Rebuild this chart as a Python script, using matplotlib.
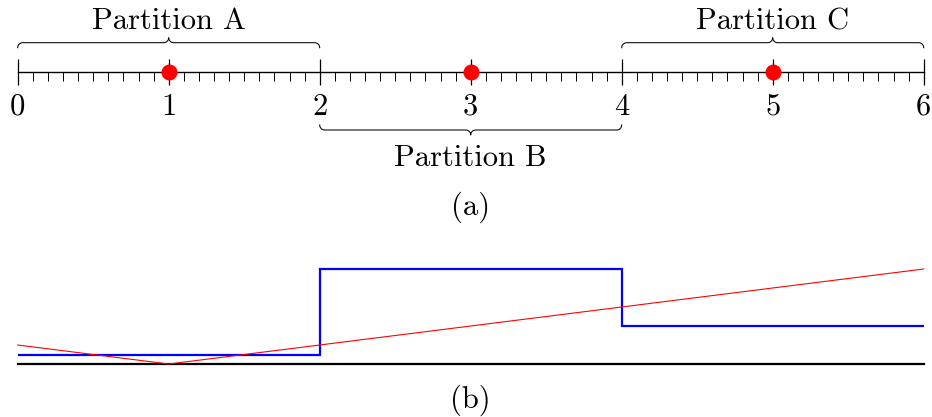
import numpy as np
import matplotlib.pyplot as plt

# number line data
major_ticks = [0, 1, 2, 3, 4, 5, 6]
minor_step = 0.1
centres = [1, 3, 5]
part_names = ['Partition A', 'Partition B', 'Partition C']
part_lo = [0, 2, 4]
part_hi = [2, 4, 6]
part_up = [True, False, True]

# lower panel data
step_edges = [0, 2, 4, 6]
step_values = [0.5, 5, 2]
red_x = [0, 1, 6]
red_y = [1, 0, 5]

plt.rcParams['font.family'] = ['cmr10', 'DejaVu Serif']
plt.rcParams['mathtext.fontset'] = 'cm'

W, H = 932, 417
PXU = 151.0           # pixels per x unit
x_left = -17.7 / PXU
x_right = 6 + (W - 17.7 - 6 * PXU) / PXU

fig = plt.figure(figsize=(W / 100, H / 100), dpi=100)

# ---- (a) number line, y in pixel units, axis line at y=0 ----
ax = fig.add_axes([0, 1 - 230 / H, 1, 230 / H])
ax.set_xlim(x_left, x_right)
ax.set_ylim(-158, 72)
for s in ['top', 'left', 'right']:
    ax.spines[s].set_visible(False)
ax.spines['bottom'].set_position(('data', 0))
ax.spines['bottom'].set_bounds(0, 6)
ax.spines['bottom'].set_linewidth(1.0)
ax.set_yticks([])
ax.set_xticks(major_ticks)
ax.set_xticklabels([str(t) for t in major_ticks])
ax.set_xticks(np.arange(0, 6 + 1e-9, minor_step), minor=True)
ax.tick_params(axis='x', which='major', direction='inout', length=18.5, width=0.9,
               labelsize=22, pad=6)
ax.tick_params(axis='x', which='minor', direction='out', length=6.5, width=0.7)

ax.plot(centres, [0] * len(centres), 'o', color='red', ms=10.5, zorder=5, clip_on=False)


def brace(ax, x0, x1, y, up, r=5.0):
    s = 1 if up else -1
    t = np.linspace(0, np.pi / 2, 12)
    a = x0 * PXU
    b = x1 * PXU
    m = (a + b) / 2
    # left end curl
    xs = list(a + r - r * np.cos(t))
    ys = list(y - s * r + s * r * np.sin(t))
    # into the tip
    xs += list(m - r + r * np.sin(t))
    ys += list(y + s * r - s * r * np.cos(t))
    # out of the tip
    xs += list(m + r - r * np.cos(t))
    ys += list(y + s * r - s * r * np.sin(t))
    # right end curl
    xs += list(b - r + r * np.sin(t))
    ys += list(y - s * r + s * r * np.cos(t))
    ax.plot(np.array(xs) / PXU, ys, color='black', lw=0.75, clip_on=False)


for lo, hi, up, name in zip(part_lo, part_hi, part_up, part_names):
    if up:
        brace(ax, lo, hi, 29.3, True)
        ax.text((lo + hi) / 2, 43, name, ha='center', va='baseline', fontsize=22)
    else:
        brace(ax, lo, hi, -58, False)
        ax.text((lo + hi) / 2, -94, name, ha='center', va='baseline', fontsize=22)

ax.text(3, -135, '(a)', ha='center', va='center', fontsize=22)

# ---- (b) piecewise constant vs |x-1| ----
bx = fig.add_axes([0, 0, 1, 177 / H])
bx.set_xlim(x_left, x_right)
bx.set_ylim((364 - 417) / 19, (364 - 240) / 19)
bx.axis('off')
bx.plot([0, 6], [0, 0], color='black', lw=1.6)
bx.stairs(step_values, step_edges, baseline=None, color='blue', lw=1.6)
bx.plot(red_x, red_y, color='red', lw=0.8)
bx.text(3, (364 - 400) / 19, '(b)', ha='center', va='center', fontsize=22)

fig.savefig('out.png', dpi=100)
